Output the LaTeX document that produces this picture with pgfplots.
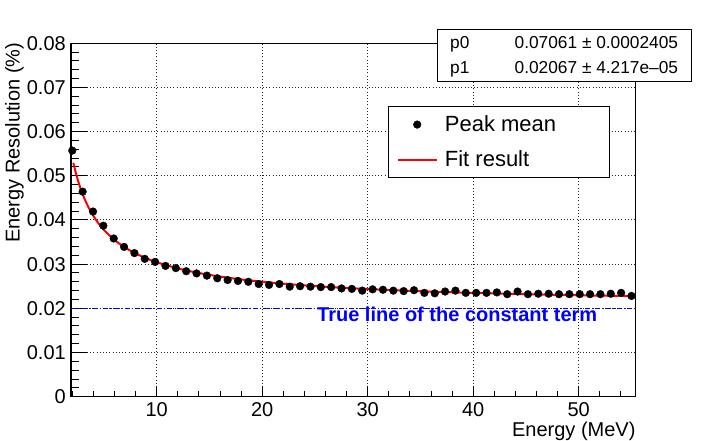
\documentclass[border=0pt]{standalone}
\usepackage{pgfplots}
\pgfplotsset{compat=1.18}
\usepackage{fontspec}
\setmainfont{Liberation Sans}
\newcommand{\mainf}{\fontsize{20bp}{24bp}\selectfont}
\newcommand{\legf}{\fontsize{22bp}{26bp}\selectfont}
\newcommand{\statf}{\fontsize{17.3bp}{20bp}\selectfont}
\begin{document}
\begin{tikzpicture}
\useasboundingbox (0,0) rectangle (706bp,441bp);
\begin{axis}[
  at={(71bp,44.3bp)}, anchor=south west,
  scale only axis, width=564.7bp, height=353.5bp,
  xmin=1.877, xmax=55.4, ymin=0, ymax=0.08,
  clip=false,
  scaled x ticks=false, scaled y ticks=false,
  axis line style={line width=1.2bp, black},
  tick pos=left, tick align=inside,
  xtick={10,20,30,40,50}, xticklabels={10,20,30,40,50},
  minor xtick={2,4,6,8,12,14,16,18,22,24,26,28,32,34,36,38,42,44,46,48,52,54},
  ytick={0,0.01,0.02,0.03,0.04,0.05,0.06,0.07,0.08},
  yticklabels={0,0.01,0.02,0.03,0.04,0.05,0.06,0.07,0.08},
  minor ytick={0.002,0.004,0.006,0.008,0.012,0.014,0.016,0.018,0.022,0.024,0.026,0.028,0.032,0.034,0.036,0.038,0.042,0.044,0.046,0.048,0.052,0.054,0.056,0.058,0.062,0.064,0.066,0.068,0.072,0.074,0.076,0.078},
  xtick style={line width=1bp, black, /pgfplots/major tick length=11bp, /pgfplots/minor tick length=5.5bp},
  ytick style={line width=1bp, black, /pgfplots/major tick length=16bp, /pgfplots/minor tick length=8bp},
  /pgf/number format/assume math mode=true,
  ticklabel style={font=\mainf},
  xticklabel style={inner sep=0pt, anchor=north, yshift=-6bp},
  yticklabel style={inner sep=0pt, anchor=east, xshift=-5bp},
  xmajorgrids=true, ymajorgrids=true,
  major grid style={line width=0.9bp, black!85, dash pattern=on 1bp off 2.2bp},
  legend image code/.code={\draw[mark repeat=2,mark phase=2,#1] plot coordinates {(0bp,0bp) (19bp,0bp) (38bp,0bp)};},
  legend cell align=left,
  legend style={at={(0.562,0.822)}, anchor=north west, draw=black, line width=0.9bp, fill=white,
    inner xsep=8.4bp, inner ysep=7.5bp, row sep=14bp, column sep=7.7bp, font=\legf,
    nodes={inner sep=0pt, text height=17bp, text depth=4bp}},
]
\addplot[blue, line width=1.5bp, dash pattern=on 5bp off 2.2bp on 1.3bp off 2.2bp, forget plot]
  coordinates {(1.877,0.02) (55.4,0.02)};
\addplot[only marks, mark=*, mark size=3.9bp, mark options={fill=black, draw=black, line width=0.3bp}]
  coordinates {
(2,0.0557) (2.98148,0.0464) (3.96296,0.0419) (4.94444,0.0387) (5.92593,0.0358)
(6.90741,0.0339) (7.88889,0.0325) (8.87037,0.0312) (9.85185,0.0305) (10.83333,0.0296)
(11.81481,0.0291) (12.79630,0.0284) (13.77778,0.0279) (14.75926,0.0274) (15.74074,0.0268)
(16.72222,0.0264) (17.70370,0.0262) (18.68519,0.0260) (19.66667,0.0255) (20.64815,0.0253)
(21.62963,0.0255) (22.61111,0.0249) (23.59259,0.0250) (24.57407,0.0249) (25.55556,0.0248)
(26.53704,0.0248) (27.51852,0.0245) (28.50000,0.0244) (29.48148,0.0240) (30.46296,0.0243)
(31.44444,0.0242) (32.42593,0.0240) (33.40741,0.0239) (34.38889,0.0241) (35.37037,0.0235)
(36.35185,0.0234) (37.33333,0.0238) (38.31481,0.0240) (39.29630,0.0235) (40.27778,0.0235)
(41.25926,0.0235) (42.24074,0.0236) (43.22222,0.0232) (44.20370,0.0238) (45.18519,0.0232)
(46.16667,0.0233) (47.14815,0.0233) (48.12963,0.0232) (49.11111,0.0232) (50.09259,0.0232)
(51.07407,0.0232) (52.05556,0.0232) (53.03704,0.0233) (54.01852,0.0235) (55,0.0228)
};
\addlegendentry{\makebox[156bp][l]{Peak mean}}
\addplot[red, line width=2bp, smooth, no marks]
  coordinates {
(2.1,0.05293) (2.5,0.04921) (3,0.045708) (3.5,0.043033) (4,0.040911) (4.5,0.039182)
(5,0.037741) (6,0.035471) (7,0.033757) (8,0.032411) (9,0.031325) (10,0.030427)
(12,0.029030) (14,0.027989) (16,0.027182) (18,0.026538) (20,0.026010) (23,0.025378)
(26,0.024880) (30,0.024361) (35,0.023868) (40,0.023493) (45,0.023196) (50,0.022956)
(55,0.022757)
};
\addlegendentry{\makebox[156bp][l]{Fit result}}
\end{axis}
\node[anchor=base west, inner sep=0pt, text=blue, font=\bfseries\fontsize{20bp}{23bp}\selectfont] at (317bp,119.3bp) {True line of the constant term};
\node[rotate=90, anchor=base east, inner sep=0pt, font=\mainf] at (19.5bp,398.5bp) {Energy Resolution (\%)};
\node[anchor=base east, inner sep=0pt, font=\mainf] at (635.7bp,4.5bp) {Energy (MeV)};
\draw[line width=0.9bp, fill=white] (437.7bp,360bp) rectangle (691.7bp,412bp);
\node[anchor=base west, inner sep=0pt, font=\statf] at (450bp,392.7bp) {p0};
\node[anchor=base east, inner sep=0pt, font=\statf] at (678.3bp,392.7bp) {0.07061 ± 0.0002405};
\node[anchor=base west, inner sep=0pt, font=\statf] at (450bp,367.7bp) {p1};
\node[anchor=base east, inner sep=0pt, font=\statf] at (678.3bp,367.7bp) {0.02067 ± 4.217e–05};
\end{tikzpicture}
\end{document}
